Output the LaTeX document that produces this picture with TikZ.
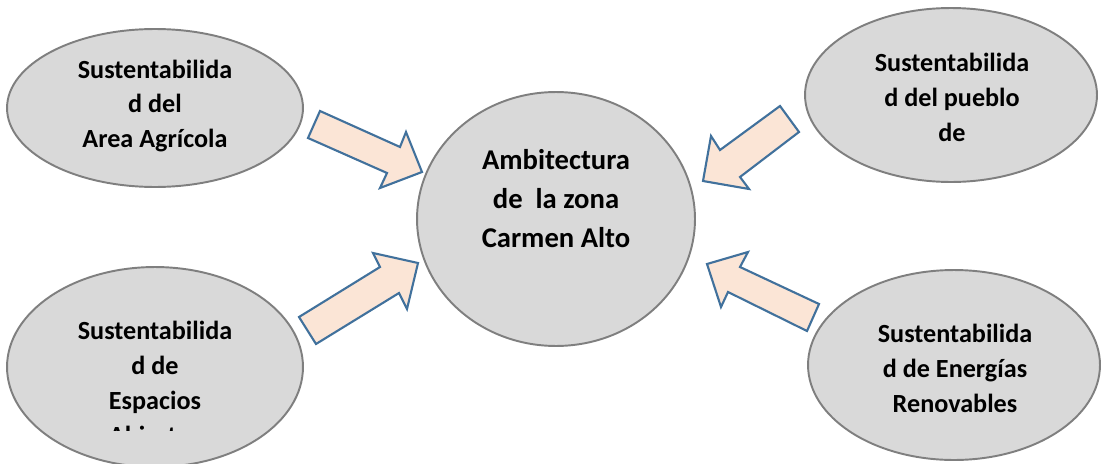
\documentclass[tikz,border=0pt]{standalone}
\usepackage{fontspec}
\setmainfont{Carlito}
\usetikzlibrary{shapes.geometric}
\definecolor{elipgris}{HTML}{D9D9D9}
\definecolor{bordegris}{HTML}{7F7F7F}
\definecolor{flechafondo}{HTML}{FBE5D6}
\definecolor{flechaborde}{HTML}{41719C}
\begin{document}
\begin{tikzpicture}[x=0.02cm, y=-0.02cm,
  elip/.style={ellipse, draw=bordegris, fill=elipgris, line width=1.1pt, inner sep=0pt},
  lado/.style={align=center, font=\bfseries\fontsize{14.9}{19.9}\selectfont},
  flecha/.style={draw=flechaborde, fill=flechafondo, line width=1.2pt, line join=miter}]
\useasboundingbox (0,0) rectangle (1101,463);
\node[elip, minimum width=5.56cm, minimum height=5.08cm] (ell0) at (556,219){};
\node[elip, minimum width=5.92cm, minimum height=3.16cm] (ell1) at (155,108){};
\node[elip, minimum width=5.84cm, minimum height=3.48cm] (ell2) at (951,95){};
\node[elip, minimum width=5.92cm, minimum height=4.00cm] (ell3) at (155,367){};
\node[elip, minimum width=5.84cm, minimum height=3.80cm] (ell4) at (954,365){};
\node[align=center, font=\bfseries\fontsize{16.3}{22.2}\selectfont] (txt0) at (556,199){Ambitectura\\de\ \ la zona\\Carmen Alto};
\node[lado] (txt1) at (155,106){Sustentabilida\\d del\\Area Agrícola};
\node[lado] (txt2) at (952,97){Sustentabilida\\d del pueblo\\de};
\begin{scope}
\clip (0,0) rectangle (1101,430);
\node[lado] (txt3) at (155,383){Sustentabilida\\d de\\Espacios\\Abiertos};
\end{scope}
\node[lado] (txt4) at (955,368){Sustentabilida\\d de Energías\\Renovables};
\draw[flecha] (320,111) -- (400,147) -- (406,132) -- (422,172) -- (380,188) -- (387,173) -- (308,138) -- cycle;
\draw[flecha] (780,106) -- (720,150) -- (711,136) -- (703,181) -- (749,189) -- (740,177) -- (799,132) -- cycle;
\draw[flecha] (299,317) -- (380,267) -- (373,253) -- (418,263) -- (407,309) -- (399,293) -- (316,344) -- cycle;
\draw[flecha] (819,304) -- (740,267) -- (748,252) -- (707,264) -- (721,307) -- (728,292) -- (807,331) -- cycle;
\end{tikzpicture}
\end{document}
